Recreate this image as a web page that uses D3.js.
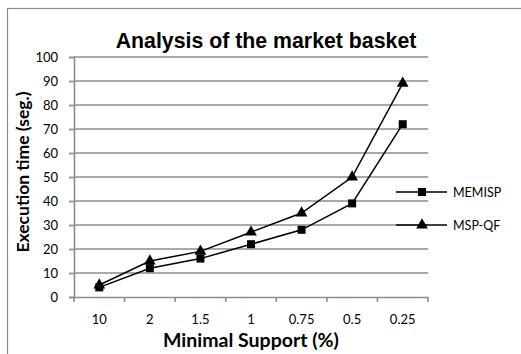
<!DOCTYPE html>
<html>
<head>
<meta charset="utf-8">
<script src="https://cdn.jsdelivr.net/npm/d3@7"></script>
<style>
  html, body { margin: 0; padding: 0; background: #fff; }
  svg { display: block; }
</style>
</head>
<body>
<svg id="chart" width="521" height="354"></svg>
<script>
// Minimal support levels (categories along the x axis)
const supports = ["10", "2", "1.5", "1", "0.75", "0.5", "0.25"];
// Execution time in seconds for each algorithm
const memisp = [4, 12, 16, 22, 28, 39, 72];
const mspqf = [5, 15, 19, 27, 35, 50, 89];
const yTicks = [0, 10, 20, 30, 40, 50, 60, 70, 80, 90, 100];

const seriesList = [
  { name: "MEMISP", values: memisp, symbol: d3.symbolSquare, size: 64 },
  { name: "MSP-QF", values: mspqf, symbol: d3.symbolTriangle, size: 60 }
];

const svg = d3.select("#chart");
const W = 521, H = 354;
const plot = { left: 74, right: 428, top: 57, bottom: 297 };
const tickFont = "Lato, 'Open Sans', sans-serif";

// Outer chart frame
svg.append("rect")
  .attr("x", 7.5).attr("y", 8.5)
  .attr("width", W + 10).attr("height", H + 10)
  .attr("fill", "#fff").attr("stroke", "#8a8a8a").attr("stroke-width", 1.2);

const x = d3.scaleBand().domain(supports).range([plot.left, plot.right]);
const y = d3.scaleLinear().domain([0, 100]).range([plot.bottom, plot.top]);

// Horizontal gridlines
svg.append("g")
  .selectAll("line")
  .data(yTicks.filter(t => t > 0))
  .join("line")
  .attr("x1", plot.left).attr("x2", plot.right)
  .attr("y1", d => y(d)).attr("y2", d => y(d))
  .attr("stroke", "#8c8c8c").attr("stroke-width", 1.6);

// Y axis
const yAxis = svg.append("g")
  .attr("transform", `translate(${plot.left},0)`)
  .call(d3.axisLeft(y).tickValues(yTicks).tickSize(5).tickPadding(11));
yAxis.select(".domain").attr("stroke", "#8c8c8c").attr("stroke-width", 1.6);
yAxis.selectAll(".tick line").attr("stroke", "#8c8c8c").attr("stroke-width", 1.6);
yAxis.selectAll("text")
  .attr("font-family", tickFont)
  .attr("font-size", 13).attr("fill", "#000");

// X axis with tick marks between categories
const xAxis = svg.append("g")
  .attr("transform", `translate(0,${plot.bottom})`)
  .call(d3.axisBottom(x).tickSize(0).tickPadding(18));
xAxis.select(".domain").attr("stroke", "#8c8c8c").attr("stroke-width", 1.6);
xAxis.selectAll("text")
  .attr("font-family", tickFont)
  .attr("font-size", 13).attr("fill", "#000");
xAxis.append("g")
  .selectAll("line")
  .data(d3.range(supports.length + 1))
  .join("line")
  .attr("x1", i => plot.left + i * x.step())
  .attr("x2", i => plot.left + i * x.step())
  .attr("y1", 0).attr("y2", 5)
  .attr("stroke", "#8c8c8c").attr("stroke-width", 1.6);

// Series lines and markers
const cx = d => x(d) + x.bandwidth() / 2;
const line = d3.line().x((d, i) => cx(supports[i])).y(d => y(d));

seriesList.forEach(s => {
  svg.append("path")
    .datum(s.values)
    .attr("d", line)
    .attr("fill", "none").attr("stroke", "#000").attr("stroke-width", 1.5);
  svg.append("g")
    .selectAll("path")
    .data(s.values)
    .join("path")
    .attr("d", d3.symbol(s.symbol, s.size)())
    .attr("transform", (d, i) => `translate(${cx(supports[i])},${y(d)})`)
    .attr("fill", "#000");
});

// Legend
const legend = svg.append("g");
seriesList.forEach((s, i) => {
  const ly = 192 + i * 33;
  legend.append("line")
    .attr("x1", 396).attr("x2", 447).attr("y1", ly).attr("y2", ly)
    .attr("stroke", "#000").attr("stroke-width", 1.5);
  legend.append("path")
    .attr("d", d3.symbol(s.symbol, s.size)())
    .attr("transform", `translate(422,${ly})`)
    .attr("fill", "#000");
  legend.append("text")
    .attr("x", 453).attr("y", ly + 4.5)
    .attr("font-family", tickFont)
    .attr("font-size", 12.5).attr("fill", "#000")
    .text(s.name);
});

// Title
svg.append("text")
  .attr("x", 266).attr("y", 48)
  .attr("text-anchor", "middle")
  .attr("font-family", "'Liberation Sans', Arial, sans-serif")
  .attr("font-weight", "bold").attr("font-size", 21.3)
  .text("Analysis of the market basket");

// Axis titles
svg.append("text")
  .attr("x", 251).attr("y", 347)
  .attr("text-anchor", "middle")
  .attr("font-family", tickFont)
  .attr("font-weight", "bold").attr("font-size", 19.5)
  .text("Minimal Support (%)");

svg.append("text")
  .attr("transform", "translate(29,172) rotate(-90)")
  .attr("text-anchor", "middle")
  .attr("font-family", tickFont)
  .attr("font-weight", "bold").attr("font-size", 17.5)
  .text("Execution time (seg.)");
</script>
</body>
</html>
